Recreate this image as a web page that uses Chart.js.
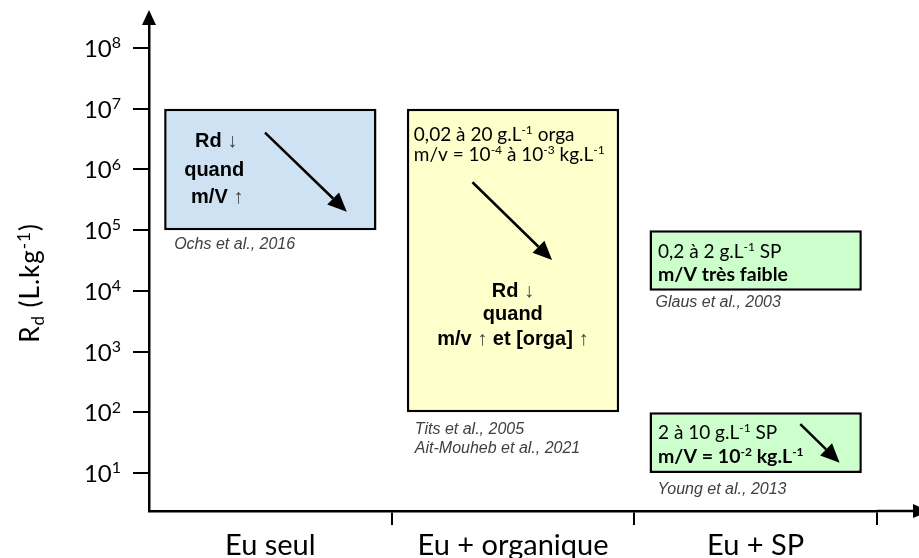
<!DOCTYPE html>
<html>
<head>
<meta charset="utf-8">
<script src="https://cdn.jsdelivr.net/npm/chart.js@4.4.1/dist/chart.umd.min.js"></script>
<style>
  html, body { margin: 0; padding: 0; background: #fff; }
</style>
</head>
<body>
<canvas id="rdChart" width="919" height="558"></canvas>
<script>
// Rd ranges (L/kg) for Eu, one box per system
const categories = ['Eu seul', 'Eu + organique', 'Eu + SP'];
const rdMin = [1e5, 1e2, 1e4];
const rdMax = [1e7, 1e7, 1e5];
// second SP box (Young et al.)
const rdMinSP2 = [null, null, 1e1];
const rdMaxSP2 = [null, null, 1e2];
// decades shown on the y axis
const decades = [1, 2, 3, 4, 5, 6, 7, 8];
const boxColors = ['#cfe2f3', '#ffffcc', '#ccffcc'];

// trend arrows, [category value, Rd]
const trendArrows = [
    { from: [-0.022, 4.03e6], to: [0.315, 2.01e5] },
    { from: [0.833, 6.14e5], to: [1.161, 3.22e4] },
    { from: [2.184, 64.1], to: [2.346, 14.8] }
];

const calibri = { family: 'Lato', size: 19 };
const calibriBold = { family: 'Lato', size: 19.5, weight: 'bold' };
const arialBold = { family: '"Liberation Sans"', size: 20, weight: 'bold' };
const refFont = { family: '"Liberation Sans"', size: 16, style: 'italic', color: '#404040' };

// text inside / under each box; dx from box left, dy from box top (or bottom)
const boxNotes = [
    { ds: 0, bar: 0, text: 'Rd ~{↓}', align: 'center', dx: 52, dy: 38, font: arialBold },
    { ds: 0, bar: 0, text: 'quand', align: 'center', dx: 50, dy: 67, font: arialBold },
    { ds: 0, bar: 0, text: 'm/V ~{↑}', align: 'center', dx: 53, dy: 94.5, font: arialBold },
    { ds: 0, bar: 0, text: 'Ochs et al., 2016', dx: 10, dy: 19, from: 'bottom', font: refFont },

    { ds: 0, bar: 1, text: '0,02 à 20 g.L^{-1} orga', dx: 7, dy: 32.5, font: calibri },
    { ds: 0, bar: 1, text: 'm/v = 10^{-4} à 10^{-3} kg.L^{-1}', dx: 7, dy: 52.5, font: calibri },
    { ds: 0, bar: 1, text: 'Rd ~{↓}', align: 'center', dx: 106, dy: 188, font: arialBold },
    { ds: 0, bar: 1, text: 'quand', align: 'center', dx: 106, dy: 211, font: arialBold },
    { ds: 0, bar: 1, text: 'm/v ~{↑} et [orga] ~{↑}', align: 'center', dx: 106, dy: 236, font: arialBold },
    { ds: 0, bar: 1, text: 'Tits et al., 2005', dx: 8, dy: 22, from: 'bottom', font: refFont },
    { ds: 0, bar: 1, text: 'Ait-Mouheb et al., 2021', dx: 8, dy: 41, from: 'bottom', font: refFont },

    { ds: 0, bar: 2, text: '0,2 à 2 g.L^{-1} SP', dx: 8.5, dy: 28, font: calibri },
    { ds: 0, bar: 2, text: 'm/V très faible', dx: 8.5, dy: 51, font: calibriBold },
    { ds: 0, bar: 2, text: 'Glaus et al., 2003', dx: 6, dy: 16.5, from: 'bottom', font: refFont },

    { ds: 1, bar: 2, text: '2 à 10 g.L^{-1} SP', dx: 8.5, dy: 27, font: calibri },
    { ds: 1, bar: 2, text: 'm/V = 10^{-2} kg.L^{-1}', dx: 8.5, dy: 51, font: calibriBold },
    { ds: 1, bar: 2, text: 'Young et al., 2013', dx: 8, dy: 21, from: 'bottom', font: refFont }
];

// text with ^{sup}, _{sub} and ~{light} runs
function drawRich(ctx, text, x, y, font, align) {
    const parts = [];
    const re = /([\^_~])\{([^}]*)\}/g;
    let last = 0, m;
    while ((m = re.exec(text))) {
        if (m.index > last) parts.push({ t: text.slice(last, m.index), k: '' });
        parts.push({ t: m[2], k: m[1] });
        last = re.lastIndex;
    }
    if (last < text.length) parts.push({ t: text.slice(last), k: '' });

    const size = font.size;
    const ratio = font.supRatio || 0.62;
    const fontFor = p => {
        const small = p.k === '^' || p.k === '_';
        const weight = p.k === '~' ? 'normal' : (font.weight || 'normal');
        return `${font.style || 'normal'} ${weight} ${small ? Math.round(size * ratio) : size}px ${font.family}`;
    };
    ctx.letterSpacing = (font.spacing || 0) + 'px';
    let total = 0;
    parts.forEach(p => { ctx.font = fontFor(p); p.w = ctx.measureText(p.t).width; total += p.w; });
    let cx = align === 'center' ? x - total / 2 : align === 'right' ? x - total : x;
    ctx.textAlign = 'left';
    ctx.textBaseline = 'alphabetic';
    parts.forEach(p => {
        ctx.font = fontFor(p);
        ctx.fillStyle = p.k === '~' ? '#444' : (font.color || '#000');
        const dy = p.k === '^' ? -size * 0.36 : p.k === '_' ? size * 0.18 : 0;
        ctx.fillText(p.t, cx, y + dy);
        cx += p.w;
    });
    ctx.letterSpacing = '0px';
}

function drawArrow(ctx, x0, y0, x1, y1, head, half, width) {
    const ang = Math.atan2(y1 - y0, x1 - x0);
    const bx = x1 - head * Math.cos(ang), by = y1 - head * Math.sin(ang);
    ctx.strokeStyle = '#000';
    ctx.fillStyle = '#000';
    ctx.lineWidth = width;
    ctx.beginPath();
    ctx.moveTo(x0, y0);
    ctx.lineTo(bx, by);
    ctx.stroke();
    ctx.beginPath();
    ctx.moveTo(x1, y1);
    ctx.lineTo(bx + half * Math.sin(ang), by - half * Math.cos(ang));
    ctx.lineTo(bx - half * Math.sin(ang), by + half * Math.cos(ang));
    ctx.closePath();
    ctx.fill();
}

const annotations = {
    id: 'annotations',
    afterDatasetsDraw(chart) {
        const { ctx } = chart;
        const { x, y } = chart.scales;
        ctx.save();
        boxNotes.forEach(n => {
            const el = chart.getDatasetMeta(n.ds).data[n.bar];
            const left = el.x - el.width / 2;
            const top = Math.min(el.y, el.base);
            const bottom = Math.max(el.y, el.base);
            const py = n.from === 'bottom' ? bottom + n.dy : top + n.dy;
            drawRich(ctx, n.text, left + n.dx, py, n.font, n.align || 'left');
        });
        trendArrows.forEach(a => {
            drawArrow(ctx,
                x.getPixelForValue(a.from[0]), y.getPixelForValue(a.from[1]),
                x.getPixelForValue(a.to[0]), y.getPixelForValue(a.to[1]),
                19, 8.5, 2.5);
        });
        ctx.restore();
    },
    afterDraw(chart) {
        const { ctx, chartArea } = chart;
        const y = chart.scales.y;
        ctx.save();
        // y tick labels 10^n
        decades.forEach(d => {
            const py = y.getPixelForValue(Math.pow(10, d));
            drawRich(ctx, '10^{' + d + '}', 121, py + 9, { family: 'Lato', size: 24, supRatio: 0.66 }, 'right');
        });
        // y title
        ctx.translate(30, 283);
        ctx.rotate(-Math.PI / 2);
        drawRich(ctx, 'R_{d} (L.kg^{-1})', 0, 9, { family: 'Lato', size: 26, supRatio: 0.66, spacing: 1 }, 'center');
        ctx.setTransform(1, 0, 0, 1, 0, 0);
        // axis arrow heads
        ctx.fillStyle = '#000';
        ctx.strokeStyle = '#000';
        ctx.lineWidth = 2.5;
        ctx.beginPath();
        ctx.moveTo(chartArea.left, chartArea.top - 14);
        ctx.lineTo(chartArea.left - 7, chartArea.top + 1);
        ctx.lineTo(chartArea.left + 7, chartArea.top + 1);
        ctx.closePath();
        ctx.fill();
        ctx.beginPath();
        ctx.moveTo(chartArea.right, chartArea.bottom);
        ctx.lineTo(914, chartArea.bottom);
        ctx.stroke();
        ctx.beginPath();
        ctx.moveTo(929, chartArea.bottom);
        ctx.lineTo(913, chartArea.bottom - 7);
        ctx.lineTo(913, chartArea.bottom + 7);
        ctx.closePath();
        ctx.fill();
        ctx.restore();
    }
};

new Chart(document.getElementById('rdChart'), {
    type: 'bar',
    data: {
        labels: categories,
        datasets: [{
            data: categories.map((c, i) => [rdMin[i], rdMax[i]]),
            backgroundColor: boxColors
        }, {
            data: rdMinSP2.map((v, i) => v === null ? null : [v, rdMaxSP2[i]]),
            backgroundColor: boxColors[2]
        }]
    },
    options: {
        responsive: false,
        devicePixelRatio: 1,
        animation: false,
        layout: { padding: { top: 24, right: 42, left: 0, bottom: 0 } },
        plugins: {
            legend: { display: false },
            tooltip: { enabled: false }
        },
        datasets: {
            bar: {
                grouped: false,
                barPercentage: 0.875,
                categoryPercentage: 1,
                borderColor: '#000',
                borderWidth: 2.5,
                borderSkipped: false
            }
        },
        scales: {
            x: {
                type: 'category',
                offset: true,
                grid: {
                    offset: true,
                    drawOnChartArea: false,
                    tickLength: 14,
                    lineWidth: 2,
                    color: ctx => ctx.index === 0 ? 'rgba(0,0,0,0)' : '#000'
                },
                border: { color: '#000', width: 2.5 },
                ticks: { color: '#000', padding: 3, font: { family: 'Lato', size: 29 } },
                afterFit: s => { s.height = 47; }
            },
            y: {
                type: 'logarithmic',
                min: 2.37,
                max: 2.48e8,
                afterBuildTicks: s => { s.ticks = decades.map(d => ({ value: Math.pow(10, d) })); },
                grid: { drawOnChartArea: false, tickLength: 16, lineWidth: 2, color: '#000' },
                border: { color: '#000', width: 2.5 },
                ticks: { callback: () => '' },
                afterFit: s => { s.width = 149; }
            }
        }
    },
    plugins: [annotations]
});
</script>
</body>
</html>
